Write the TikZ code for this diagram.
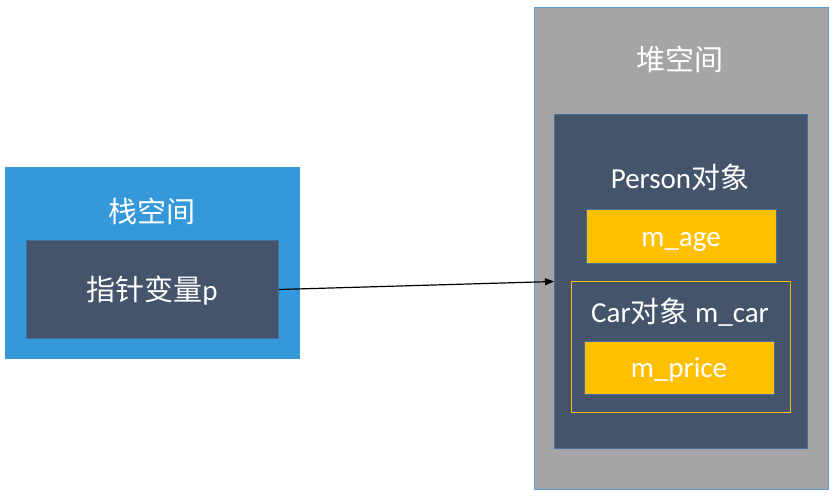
\documentclass[tikz,border=0pt]{standalone}
\usepackage{fontspec}
\setmainfont{Carlito}
\newfontfamily\cjk{Noto Sans CJK SC}
\usetikzlibrary{arrows.meta}
\definecolor{stackblue}{HTML}{3498DB}
\definecolor{darkslate}{HTML}{44546A}
\definecolor{edgeblue}{HTML}{41719C}
\definecolor{heapgray}{HTML}{A5A5A5}
\definecolor{heapedge}{HTML}{5B9BD5}
\definecolor{gold}{HTML}{FFC000}
\tikzset{
  box/.style={draw, line width=1pt, anchor=north west, inner sep=0pt},
  lbl/.style={text=white, font=\fontsize{29}{34}\selectfont, inner sep=0pt, anchor=center},
  blbl/.style={lbl, anchor=base},
}
\begin{document}
\begin{tikzpicture}[x=1pt,y=-1pt]
\useasboundingbox (0,0) rectangle (835,496);
% stack
\node[box, draw=stackblue, fill=stackblue, minimum width=294pt, minimum height=191pt] (stack) at (5,167) {};
\node[lbl] (stacklbl) at (152,211) {\cjk 栈空间};
\node[box, draw=edgeblue, fill=darkslate, minimum width=252pt, minimum height=98pt] (ptr) at (26,240) {};
\node[blbl] (ptrlbl) at (152,300) {{\cjk 指针变量}p};
% heap
\node[box, draw=heapedge, fill=heapgray, minimum width=294pt, minimum height=482pt] (heap) at (534,7) {};
\node[lbl] (heaplbl) at (680,59) {\cjk 堆空间};
\node[box, draw=edgeblue, fill=darkslate, minimum width=253pt, minimum height=334pt] (person) at (554,114) {};
\node[blbl] (personlbl) at (680,188) {Person{\cjk 对象}};
\node[box, draw=edgeblue, fill=gold, minimum width=190pt, minimum height=54pt] (age) at (586,209) {};
\node[blbl] (agelbl) at (681,246) {m\_age};
\node[box, draw=gold, fill=darkslate, minimum width=219pt, minimum height=131pt] (car) at (571,281) {};
\node[blbl] (carlbl) at (680,322) {Car{\cjk 对象} m\_car};
\node[box, draw=edgeblue, fill=gold, minimum width=190pt, minimum height=53pt] (price) at (584,341) {};
\node[blbl] (pricelbl) at (679,377) {m\_price};
% arrow
\draw[line width=1.2pt, -{Triangle[length=9pt,width=7pt]}] (ptr.east) -- (person.west);
\end{tikzpicture}
\end{document}
